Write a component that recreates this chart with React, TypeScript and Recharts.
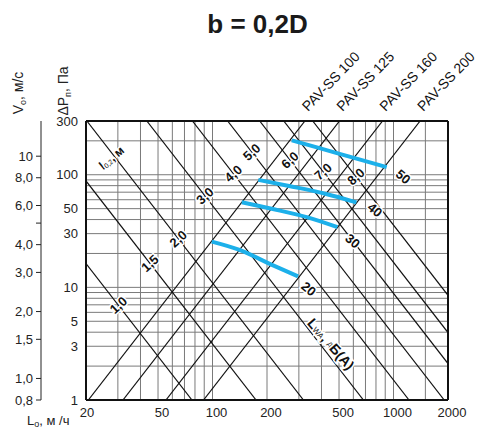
import React from 'react';
import { LineChart, Line, XAxis, YAxis, ReferenceLine, ReferenceDot } from 'recharts';

const FONT = '"Liberation Sans", Arial, sans-serif';

// axes
const flowTicks = [20, 50, 100, 200, 500, 1000, 2000];
const pressureTicks = [1, 3, 5, 10, 30, 50, 100, 300];
const velocityTicks = [0.8, 0.9, 1, 1.5, 2, 3, 4, 5, 6, 7, 8, 9, 10];
const velocityLabels = ['0,8', '', '1,0', '1,5', '2,0', '3,0', '4,0', '', '6,0', '', '8,0', '', '10'];
const flowGrid = [30, 40, 50, 60, 70, 80, 90, 100, 200, 300, 400, 500, 600, 700, 800, 900, 1000, 1500];
const pressureGrid = [2, 3, 4, 5, 6, 7, 8, 9, 10, 20, 30, 40, 50, 60, 70, 80, 90, 100, 200];

// device sizes: flow (m3/h) where the size line reaches 1 Pa
const sizes = ['PAV-SS 100', 'PAV-SS 125', 'PAV-SS 160', 'PAV-SS 200'];
const sizeFlowAt1Pa = [20.6, 32, 55.3, 89.2];

// throw l0,2 lines: flow where each line reaches 1 Pa
const throwLabels = ['1,0', '1,5', '2,0', '3,0', '4,0', '5,0', '6,0', '7,0', '8,0'];
const throwFlowAt1Pa = [77, 174, 318, 682, 1218, 1906, 2866, 3892, 5626];
const throwLabelFlow = [30.2, 45.1, 64.7, 90.9, 130.3, 164.7, 268, 408, 620];

// noise curves LwA, dB(A), one point per size
const noiseLevels = ['20', '30', '40', '50'];
const noiseFlow = [
  [99, 141, 210, 297],
  [145, 212, 336, 490],
  [179, 265, 424, 624],
  [274, 386, 604, 917],
];
const noisePressure = [
  [25.5, 21.5, 16, 12.5],
  [57, 49.9, 41.8, 34.2],
  [90, 79.4, 67.5, 56.8],
  [202, 173, 141, 117],
];
const noiseLabelAt = [
  { x: 340, y: 9.7 },
  { x: 594, y: 25.8 },
  { x: 790, y: 48.7 },
  { x: 1132, y: 96 },
];

const SLOPE = 2.07;
const L_MIN = 20, L_MAX = 2000, P_MIN = 1, P_MAX = 300;

const risingSeg = (l1: number) => {
  const a = Math.max(L_MIN, l1);
  const b = Math.min(L_MAX, l1 * Math.pow(P_MAX, 1 / SLOPE));
  return [a, b].map(x => ({ x, y: Math.pow(x / l1, SLOPE) }));
};
const fallingSeg = (lb: number) => {
  const a = Math.max(L_MIN, lb * Math.pow(P_MAX, -1 / SLOPE));
  const b = Math.min(L_MAX, lb);
  return [a, b].map(x => ({ x, y: Math.pow(lb / x, SLOPE) }));
};

const halo = { stroke: '#fff', strokeWidth: 3, paintOrder: 'stroke' as const };

const FlowTick = (props: any) => {
  const { x, y, payload, index } = props;
  return (
    <text x={x + (index ? 4 : 1)} y={y + 9} textAnchor="middle" fontSize={13} fill="#222" fontFamily={FONT}>
      {payload.value}
    </text>
  );
};

export default function App() {
  return (
    <div style={{ position: 'absolute', left: 0, top: 0, width: 481, height: 428, background: '#fff' }}>
      <LineChart width={481} height={428} margin={{ top: 121, right: 33, bottom: 0, left: 0 }} style={{ fontFamily: FONT }}>
        <XAxis dataKey="x" type="number" scale="log" domain={[L_MIN, L_MAX]} allowDataOverflow ticks={flowTicks}
          height={28} tickLine={false} axisLine={{ stroke: '#111', strokeWidth: 2 }} tick={<FlowTick />} />
        <YAxis yAxisId="p" type="number" scale="log" domain={[P_MIN, P_MAX]} allowDataOverflow ticks={pressureTicks}
          width={45} tickLine={false} axisLine={{ stroke: '#111', strokeWidth: 2 }} tick={{ fill: '#222', fontSize: 13 }} />
        <YAxis yAxisId="v" type="number" scale="log" domain={[0.8, 14.4]} allowDataOverflow ticks={velocityTicks}
          width={41} tickSize={5} tickMargin={3} stroke="#222"
          tickFormatter={(v: number) => velocityLabels[velocityTicks.indexOf(v)]}
          tick={{ fill: '#222', fontSize: 13 }} />

        {flowGrid.map(v => (
          <ReferenceLine key={'gx' + v} yAxisId="p" x={v} stroke="#7a7a7a" strokeWidth={1} />
        ))}
        {pressureGrid.map(v => (
          <ReferenceLine key={'gy' + v} yAxisId="p" y={v} stroke="#7a7a7a" strokeWidth={1} />
        ))}
        <ReferenceLine yAxisId="p" x={L_MAX} stroke="#111" strokeWidth={2} />
        <ReferenceLine yAxisId="p" y={P_MAX} stroke="#111" strokeWidth={2} />

        {throwFlowAt1Pa.map((lb, i) => (
          <Line key={'t' + i} yAxisId="p" data={fallingSeg(lb)} dataKey="y" stroke="#111" strokeWidth={1.2}
            dot={false} isAnimationActive={false} />
        ))}
        {sizeFlowAt1Pa.map((l1, i) => (
          <Line key={'s' + i} yAxisId="p" data={risingSeg(l1)} dataKey="y" stroke="#111" strokeWidth={1.2}
            dot={false} isAnimationActive={false} />
        ))}
        {noiseLevels.map((n, i) => (
          <Line key={'n' + n} yAxisId="p" type="monotone"
            data={noiseFlow[i].map((x, j) => ({ x, y: noisePressure[i][j] }))}
            dataKey="y" stroke="#1cb0ea" strokeWidth={4} dot={false} isAnimationActive={false} />
        ))}

        {throwLabels.map((t, i) => (
          <ReferenceDot key={'tl' + i} yAxisId="p" x={throwLabelFlow[i]}
            y={Math.pow(throwFlowAt1Pa[i] / throwLabelFlow[i], SLOPE)} r={0} ifOverflow="visible"
            shape={(p: any) => (
              <text x={p.cx} y={p.cy} transform={`rotate(-42 ${p.cx} ${p.cy})`} textAnchor="middle"
                dominantBaseline="central" fontSize={13} fontWeight="bold" fill="#111" {...halo}>{t}</text>
            )} />
        ))}
        {noiseLevels.map((n, i) => (
          <ReferenceDot key={'nl' + n} yAxisId="p" x={noiseLabelAt[i].x} y={noiseLabelAt[i].y} r={0} ifOverflow="visible"
            shape={(p: any) => (
              <text x={p.cx} y={p.cy} transform={`rotate(40 ${p.cx} ${p.cy})`} textAnchor="middle"
                dominantBaseline="central" fontSize={13} fontWeight="bold" fill="#111" {...halo}>{n}</text>
            )} />
        ))}
        {sizes.map((s, i) => (
          <ReferenceDot key={'sl' + i} yAxisId="p" x={sizeFlowAt1Pa[i] * Math.pow(P_MAX, 1 / SLOPE)} y={P_MAX}
            r={0} ifOverflow="visible"
            shape={(p: any) => (
              <text x={p.cx + 3} y={p.cy - 9} transform={`rotate(-46 ${p.cx + 3} ${p.cy - 9})`}
                fontSize={14} fill="#111">{s}</text>
            )} />
        ))}
        <ReferenceDot yAxisId="p" x={451} y={3.14} r={0} ifOverflow="visible"
          shape={(p: any) => (
            <text x={p.cx} y={p.cy} transform={`rotate(49 ${p.cx} ${p.cy})`} textAnchor="middle"
              dominantBaseline="central" fontWeight="bold" fontSize={14} fill="#111" {...halo}>
              L<tspan fontSize={8} fontWeight="normal" dy={2}>WA</tspan>
              <tspan dy={-2}>, </tspan><tspan fontSize={8} fontWeight="normal">д</tspan>Б(А)
            </text>
          )} />
        <ReferenceDot yAxisId="p" x={27.7} y={141} r={0} ifOverflow="visible"
          shape={(p: any) => (
            <text x={p.cx} y={p.cy} transform={`rotate(-40 ${p.cx} ${p.cy})`} textAnchor="middle"
              dominantBaseline="central" fontWeight="bold" fontSize={12} fill="#111" {...halo}>
              l<tspan fontSize={7} fontWeight="normal" dy={2}>0,2</tspan><tspan dy={-2}>, м</tspan>
            </text>
          )} />
      </LineChart>

      <svg width={481} height={428} style={{ position: 'absolute', left: 0, top: 0, pointerEvents: 'none' }}
        fontFamily={FONT} fill="#222">
        <text x={257.5} y={33} textAnchor="middle" fontSize={26} fontWeight="bold" fill="#1a1a1a">b = 0,2D</text>
        <text transform="translate(23,93) rotate(-90)" textAnchor="middle" fontSize={14}>
          V<tspan fontSize={9} dy={3}>o</tspan><tspan dy={-3}>, м/с</tspan>
        </text>
        <text transform="translate(68,91) rotate(-90)" textAnchor="middle" fontSize={14}>
          ΔP<tspan fontSize={9} dy={3}>п</tspan><tspan dy={-3}>, Па</tspan>
        </text>
        <text x={27} y={425} fontSize={13}>
          L<tspan fontSize={9} dy={2}>o</tspan><tspan dy={-2}>, м /ч</tspan>
        </text>
      </svg>
    </div>
  );
}
